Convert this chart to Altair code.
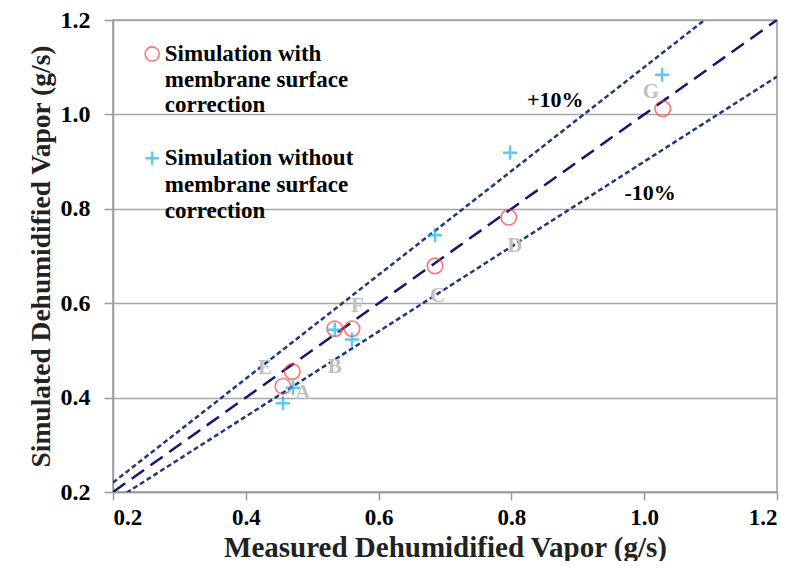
import altair as alt
import pandas as pd

# Data
with_x = [0.456, 0.470, 0.534, 0.560, 0.685, 0.796, 1.028]
with_y = [0.424, 0.455, 0.546, 0.546, 0.679, 0.782, 1.012]
without_x = [0.456, 0.471, 0.534, 0.560, 0.685, 0.798, 1.027]
without_y = [0.388, 0.421, 0.544, 0.523, 0.744, 0.919, 1.084]

letters = ["A", "B", "C", "D", "E", "F", "G"]
letter_x = [0.486, 0.534, 0.689, 0.805, 0.429, 0.568, 1.010]
letter_y = [0.409, 0.464, 0.616, 0.721, 0.462, 0.595, 1.048]

band_labels = ["+10%", "-10%"]
band_label_x = [0.866, 1.009]
band_label_y = [1.031, 0.833]

line_x = [0.2, 1.2]
factors = [1.0, 1.1, 0.9]

legend_lines_1 = ["Simulation with", "membrane surface", "correction"]
legend_lines_2 = ["Simulation without", "membrane surface", "correction"]
legend_sym_x = 0.259
legend_text_x = 0.278
legend_y1 = [1.128, 1.073, 1.019]
legend_y2 = [0.907, 0.850, 0.795]

FONT = "Liberation Serif"
PLUS = "M-1,0H1M0,-1V1"

xs = alt.Scale(domain=[0.2, 1.2], nice=False, zero=False)
ys = alt.Scale(domain=[0.2, 1.2], nice=False, zero=False)

xaxis = alt.Axis(values=[0.2, 0.4, 0.6, 0.8, 1.0, 1.2], format=".1f", grid=False,
                 title="Measured Dehumidified Vapor (g/s)",
                 titleFontSize=29, titleBaseline="alphabetic", titleY=64,
                 labelFontSize=23, labelPadding=6)
yaxis = alt.Axis(values=[0.2, 0.4, 0.6, 0.8, 1.0, 1.2], format=".1f", grid=True,
                 title="Simulated Dehumidified Vapor (g/s)", titleFontSize=27.5,
                 labelFontSize=24)

lines_df = pd.DataFrame([
    {"x": x, "y": f * x, "k": str(f)} for f in factors for x in line_x
])

mid = alt.Chart(lines_df[lines_df.k == "1.0"]).mark_line(
    color="#15166e", strokeWidth=2.5, strokeDash=[15, 8], clip=True
).encode(x=alt.X("x:Q", scale=xs, axis=xaxis), y=alt.Y("y:Q", scale=ys, axis=yaxis))

outer = alt.Chart(lines_df[lines_df.k != "1.0"]).mark_line(
    color="#1f3a78", strokeWidth=2.5, strokeDash=[5, 3], clip=True
).encode(x=alt.X("x:Q", scale=xs), y=alt.Y("y:Q", scale=ys), detail="k:N")

w_df = pd.DataFrame({"x": with_x, "y": with_y})
wo_df = pd.DataFrame({"x": without_x, "y": without_y})

plus = alt.Chart(wo_df).mark_point(
    shape=PLUS, size=200, color="#1cb0ee", strokeWidth=2.5, filled=False
).encode(x=alt.X("x:Q", scale=xs), y=alt.Y("y:Q", scale=ys))

circ = alt.Chart(w_df).mark_point(
    shape="circle", size=240, color="#ff3c3c", strokeWidth=1.6, filled=False
).encode(x=alt.X("x:Q", scale=xs), y=alt.Y("y:Q", scale=ys))

let_df = pd.DataFrame({"x": letter_x, "y": letter_y, "t": letters})
let_txt = alt.Chart(let_df).mark_text(
    font=FONT, fontSize=21, fontWeight="bold", color="#c0c0c0"
).encode(x=alt.X("x:Q", scale=xs), y=alt.Y("y:Q", scale=ys), text="t:N")

band_df = pd.DataFrame({"x": band_label_x, "y": band_label_y, "t": band_labels})
band_txt = alt.Chart(band_df).mark_text(
    font=FONT, fontSize=22, fontWeight="bold", color="black"
).encode(x=alt.X("x:Q", scale=xs), y=alt.Y("y:Q", scale=ys), text="t:N")

leg_text_df = pd.DataFrame({
    "x": [legend_text_x] * 6,
    "y": legend_y1 + legend_y2,
    "t": legend_lines_1 + legend_lines_2,
})
leg_txt = alt.Chart(leg_text_df).mark_text(
    font=FONT, fontSize=23, fontWeight="bold", color="black", align="left", baseline="middle"
).encode(x=alt.X("x:Q", scale=xs), y=alt.Y("y:Q", scale=ys), text="t:N")

leg_c = alt.Chart(pd.DataFrame({"x": [legend_sym_x], "y": [legend_y1[0]]})).mark_point(
    shape="circle", size=200, color="#ff3c3c", strokeWidth=1.6, filled=False
).encode(x=alt.X("x:Q", scale=xs), y=alt.Y("y:Q", scale=ys))

leg_p = alt.Chart(pd.DataFrame({"x": [legend_sym_x], "y": [legend_y2[0]]})).mark_point(
    shape=PLUS, size=180, color="#1cb0ee", strokeWidth=2.5, filled=False
).encode(x=alt.X("x:Q", scale=xs), y=alt.Y("y:Q", scale=ys))

chart = alt.layer(mid, outer, circ, plus, let_txt, band_txt, leg_txt, leg_c, leg_p).properties(
    width=664, height=472,
    autosize=alt.AutoSizeParams(type="none"),
    padding={"left": 105, "top": 12, "right": 21, "bottom": 69},
).configure_view(
    stroke="#9a9a9a", strokeWidth=1.5
).configure_axis(
    labelFont=FONT, labelFontWeight="bold", labelColor="black",
    titleFont=FONT, titleFontWeight="bold", titleColor="#222222",
    domainColor="#9a9a9a", domainWidth=1.5, tickColor="#9a9a9a", tickWidth=1.5,
    gridColor="#a6a6a6", gridWidth=1.5,
).configure_axisX(
    tickSize=8
).configure_axisY(
    tickSize=9, labelPadding=14, titlePadding=5
)

chart.save("out.html", embed_options={"renderer": "svg", "actions": False})
